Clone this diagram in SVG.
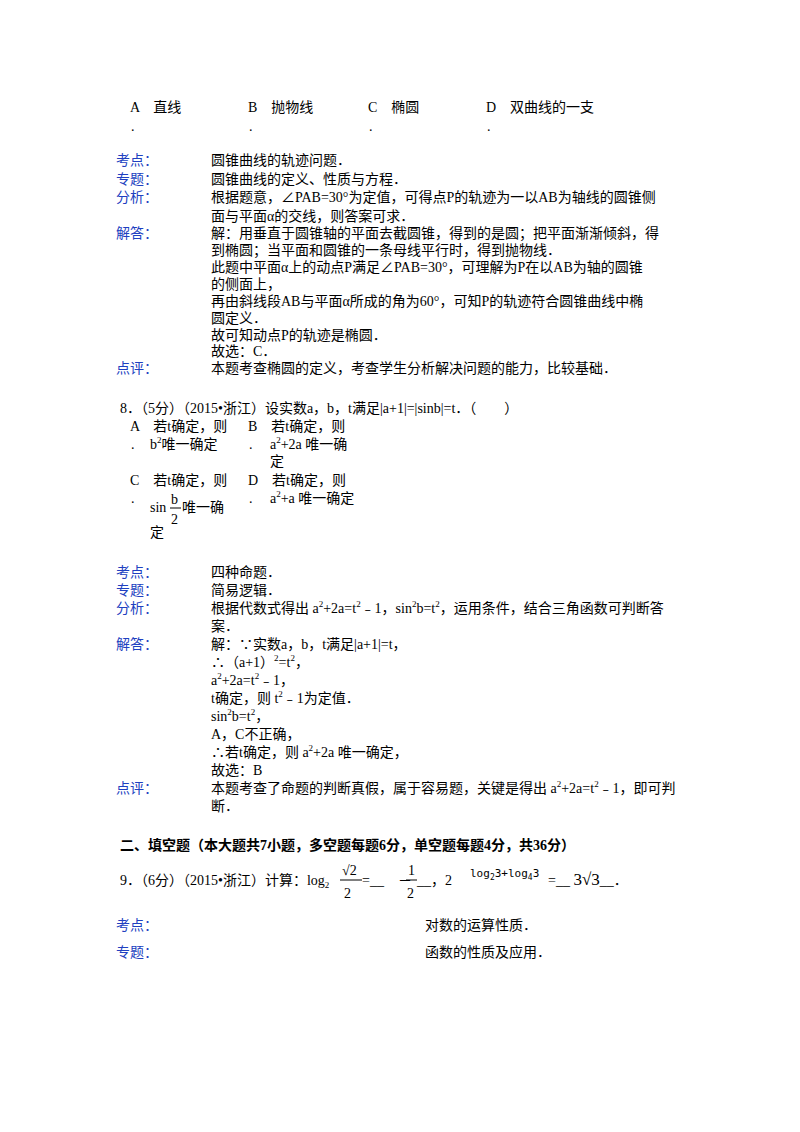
<svg xmlns="http://www.w3.org/2000/svg" width="800" height="1132" viewBox="0 0 800 1132">
<style>
text{font-family:"Liberation Serif","Noto Sans CJK SC",serif;font-size:14px;fill:#000}
.l{fill:#2040c0}
.b{font-weight:bold}
.s{font-size:9px}
.m{font-family:"DejaVu Sans Mono","Liberation Mono",monospace;font-size:11px}
</style>
<rect width="800" height="1132" fill="#fff"/>
<g id="q7opts">
<text x="130" y="112">A　直线</text><text x="131" y="131">.</text>
<text x="248" y="112">B　抛物线</text><text x="249" y="131">.</text>
<text x="368" y="112">C　椭圆</text><text x="369" y="131">.</text>
<text x="486" y="112">D　双曲线的一支</text><text x="487" y="131">.</text>
</g>
<g id="q7ans">
<text class="l" x="116" y="165">考点：</text><text x="211" y="165">圆锥曲线的轨迹问题．</text>
<text class="l" x="116" y="184">专题：</text><text x="211" y="184">圆锥曲线的定义、性质与方程．</text>
<text class="l" x="116" y="202">分析：</text><text x="211" y="202">根据题意，∠PAB=30°为定值，可得点P的轨迹为一以AB为轴线的圆锥侧</text>
<text x="211" y="221">面与平面α的交线，则答案可求．</text>
<text class="l" x="116" y="238">解答：</text><text x="211" y="238">解：用垂直于圆锥轴的平面去截圆锥，得到的是圆；把平面渐渐倾斜，得</text>
<text x="211" y="255">到椭圆；当平面和圆锥的一条母线平行时，得到抛物线．</text>
<text x="211" y="272">此题中平面α上的动点P满足∠PAB=30°，可理解为P在以AB为轴的圆锥</text>
<text x="211" y="289">的侧面上，</text>
<text x="211" y="306">再由斜线段AB与平面α所成的角为60°，可知P的轨迹符合圆锥曲线中椭</text>
<text x="211" y="323">圆定义．</text>
<text x="211" y="340">故可知动点P的轨迹是椭圆．</text>
<text x="211" y="356">故选：C．</text>
<text class="l" x="116" y="373">点评：</text><text x="211" y="373">本题考查椭圆的定义，考查学生分析解决问题的能力，比较基础．</text>
</g>
<g id="q8">
<text x="120" y="413">8．（5分）（2015•浙江）设实数a，b，t满足|a+1|=|sinb|=t．（　　）</text>
<text x="130" y="431">A　若t确定，则</text><text x="131" y="449">.</text>
<text x="150" y="449">b<tspan class="s" dy="-6">2</tspan><tspan dy="6">唯一确定</tspan></text>
<text x="248" y="431">B　若t确定，则</text><text x="249" y="449">.</text>
<text x="270" y="449">a<tspan class="s" dy="-6">2</tspan><tspan dy="6">+2a 唯一确</tspan></text>
<text x="270" y="466">定</text>
<text x="130" y="485">C　若t确定，则</text><text x="131" y="503">.</text>
<text x="150" y="512">sin</text><text x="171" y="504" font-size="16">b</text><line x1="170" y1="508" x2="181" y2="508" stroke="#000" stroke-width="1"/><text x="171" y="524" font-size="16">2</text><text x="182" y="512">唯一确</text>
<text x="150" y="537">定</text>
<text x="248" y="485">D　若t确定，则</text><text x="249" y="503">.</text>
<text x="270" y="503">a<tspan class="s" dy="-6">2</tspan><tspan dy="6">+a 唯一确定</tspan></text>
</g>
<g id="q8ans">
<text class="l" x="116" y="577">考点：</text><text x="211" y="577">四种命题．</text>
<text class="l" x="116" y="595">专题：</text><text x="211" y="595">简易逻辑．</text>
<text class="l" x="116" y="613">分析：</text><text x="211" y="613">根据代数式得出 a<tspan class="s" dy="-6">2</tspan><tspan dy="6">+2a=t</tspan><tspan class="s" dy="-6">2</tspan><tspan dy="6">﹣1，sin</tspan><tspan class="s" dy="-6">2</tspan><tspan dy="6">b=t</tspan><tspan class="s" dy="-6">2</tspan><tspan dy="6">，运用条件，结合三角函数可判断答</tspan></text>
<text x="211" y="631">案．</text>
<text class="l" x="116" y="649">解答：</text><text x="211" y="649">解：∵实数a，b，t满足|a+1|=t，</text>
<text x="211" y="667">∴（a+1）<tspan class="s" dy="-6">2</tspan><tspan dy="6">=t</tspan><tspan class="s" dy="-6">2</tspan><tspan dy="6">，</tspan></text>
<text x="211" y="685">a<tspan class="s" dy="-6">2</tspan><tspan dy="6">+2a=t</tspan><tspan class="s" dy="-6">2</tspan><tspan dy="6">﹣1，</tspan></text>
<text x="211" y="703">t确定，则 t<tspan class="s" dy="-6">2</tspan><tspan dy="6">﹣1为定值．</tspan></text>
<text x="211" y="721">sin<tspan class="s" dy="-6">2</tspan><tspan dy="6">b=t</tspan><tspan class="s" dy="-6">2</tspan><tspan dy="6">，</tspan></text>
<text x="211" y="739">A，C不正确，</text>
<text x="211" y="757">∴若t确定，则 a<tspan class="s" dy="-6">2</tspan><tspan dy="6">+2a 唯一确定，</tspan></text>
<text x="211" y="775">故选：B</text>
<text class="l" x="116" y="793">点评：</text><text x="211" y="793">本题考查了命题的判断真假，属于容易题，关键是得出 a<tspan class="s" dy="-6">2</tspan><tspan dy="6">+2a=t</tspan><tspan class="s" dy="-6">2</tspan><tspan dy="6">﹣1，即可判</tspan></text>
<text x="211" y="811">断．</text>
</g>
<g id="sec2">
<text class="b" x="120" y="850">二、填空题（本大题共7小题，多空题每题6分，单空题每题4分，共36分）</text>
</g>
<g id="q9">
<text x="120" y="885">9．（6分）（2015•浙江）计算：log<tspan class="s" dy="3">2</tspan></text>
<text x="342" y="875" font-size="18">√2</text><line x1="340" y1="880" x2="362" y2="880" stroke="#000"/><text x="344" y="898" font-size="18">2</text>
<text x="362" y="885">=__　－</text>
<text x="408" y="875" font-size="13">1</text><line x1="406" y1="880" x2="417" y2="880" stroke="#000"/><text x="407" y="898" font-size="13">2</text>
<text x="417" y="885">__，2</text>
<text class="m" x="470" y="877">log<tspan font-size="8" dy="3">2</tspan><tspan dy="-3">3+log</tspan><tspan font-size="8" dy="3">4</tspan><tspan dy="-3">3</tspan></text>
<text x="548" y="885">=__ <tspan font-size="17">3√3</tspan>__．</text>
</g>
<g id="q9ans">
<text class="l" x="116" y="930">考点：</text><text x="425" y="930">对数的运算性质．</text>
<text class="l" x="116" y="957">专题：</text><text x="425" y="957">函数的性质及应用．</text>
</g>
</svg>
